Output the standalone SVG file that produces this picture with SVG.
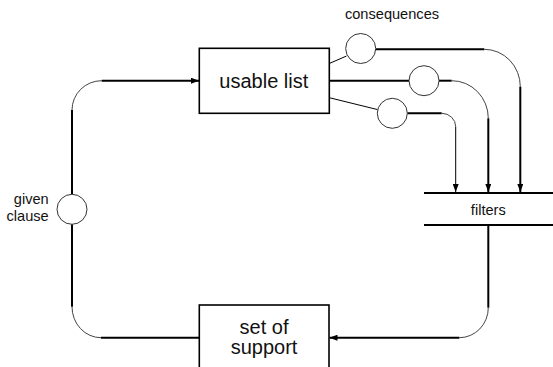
<svg xmlns="http://www.w3.org/2000/svg" width="553" height="367" viewBox="0 0 553 367">
<style>
.box{fill:#fff;stroke:#000;stroke-width:1.6}
.ln{fill:none;stroke:#000;stroke-width:2}
.thin{fill:none;stroke:#000;stroke-width:1}
.arc{fill:none;stroke:#444;stroke-width:1}
.circ{fill:#fff;stroke:#333;stroke-width:1}
.t{font-family:"Liberation Sans",Arial,sans-serif;fill:#111}
.big{font-size:20px}
.sm{font-size:14.6px}
</style>
<defs>
<marker id="ah" viewBox="0 0 8 6" refX="8" refY="3" markerWidth="8" markerHeight="6" markerUnits="userSpaceOnUse" orient="auto">
<path d="M0,0 L8,3 L0,6 Z" fill="#000"/>
</marker>
</defs>
<g id="connectors">
<path class="ln" d="M72,306.7 V224.3"/>
<path class="ln" d="M72,194.3 V110"/>
<path class="arc" d="M72,110 A29.7,29.3 0 0 1 101.7,80.7"/>
<path class="ln" d="M101.7,80.7 H199" marker-end="url(#ah)"/>
<path class="arc" d="M72,306.7 A29,31 0 0 0 101,337.7"/>
<path class="ln" d="M101,337.7 H199.3"/>
<path class="thin" d="M329.3,63.5 L346.5,56"/>
<path class="ln" d="M375.7,49.3 H484.3"/>
<path class="arc" d="M484.3,49.3 A36,37.4 0 0 1 520.3,86.7"/>
<path class="ln" d="M520.3,86.7 V192" marker-end="url(#ah)"/>
<path class="ln" d="M329.3,80.7 H409"/>
<path class="ln" d="M439,80.7 H451.7"/>
<path class="arc" d="M451.7,80.7 A36.6,37.6 0 0 1 488.3,118.3"/>
<path class="ln" d="M488.3,118.3 V192" marker-end="url(#ah)"/>
<path class="thin" d="M329.3,97.7 L377.6,109.6"/>
<path class="ln" d="M407.3,113.3 H441.7"/>
<path class="arc" d="M441.7,113.3 A14,13.4 0 0 1 455.7,126.7"/>
<path class="thin" d="M455.7,126.7 V192" marker-end="url(#ah)"/>
<path class="ln" d="M488.3,225 V307.7"/>
<path class="arc" d="M488.3,307.7 A29,30 0 0 1 459.3,337.7"/>
<path class="ln" d="M459.3,337.7 H329.5" marker-end="url(#ah)"/>
</g>
<g id="usable-list">
<rect class="box" x="199.3" y="48.3" width="130" height="65"/>
<text class="t big" x="263.8" y="88.3" text-anchor="middle">usable list</text>
</g>
<g id="set-of-support">
<rect class="box" x="199.3" y="305" width="129.7" height="70"/>
<text class="t big" x="264" y="334" text-anchor="middle">set of</text>
<text class="t big" x="264" y="354.3" text-anchor="middle">support</text>
</g>
<g id="filters">
<path class="ln" d="M424,193 H553 M424,225 H553"/>
<text class="t sm" x="488.3" y="215" text-anchor="middle">filters</text>
</g>
<g id="given-clause">
<circle class="circ" cx="72" cy="209.3" r="15"/>
<text class="t sm" x="48.7" y="204.3" text-anchor="end">given</text>
<text class="t sm" x="48.7" y="221" text-anchor="end">clause</text>
</g>
<g id="consequence-1">
<circle class="circ" cx="360.7" cy="48.5" r="15"/>
<text class="t sm" x="392" y="19" text-anchor="middle">consequences</text>
</g>
<g id="consequence-2">
<circle class="circ" cx="424" cy="80.7" r="15"/>
</g>
<g id="consequence-3">
<circle class="circ" cx="392.3" cy="113.3" r="15"/>
</g>
</svg>
